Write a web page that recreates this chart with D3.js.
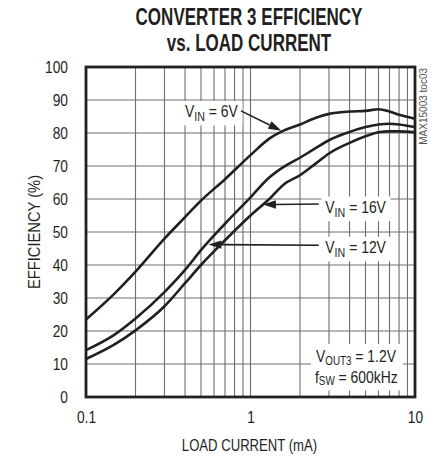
<!DOCTYPE html>
<html>
<head>
<meta charset="utf-8">
<script src="https://cdn.jsdelivr.net/npm/d3@7"></script>
<style>
  body { margin: 0; background: #fff; }
  text { font-family: "Liberation Sans Narrow", "Arial Narrow", "Liberation Sans", sans-serif; fill: #231f20; }
</style>
</head>
<body>
<div id="chart"></div>
<script>
// load current (mA) shared by all three curves
var current = [0.1, 0.15, 0.2, 0.3, 0.4, 0.5, 0.7, 1, 1.3, 1.6, 2, 2.5, 3, 4, 5, 6, 7, 8, 10];
// efficiency (%)
var eff6V  = [23.5, 31.5, 38, 48, 54.5, 59.5, 66, 73.3, 78.3, 80.8, 82.6, 84.6, 85.8, 86.5, 86.7, 87.2, 86.5, 85.5, 84.3];
var eff12V = [14.2, 19, 23.8, 31.8, 38.5, 44.5, 52.5, 60.5, 66.5, 69.8, 72.5, 75.5, 77.8, 80.3, 81.8, 82.6, 82.8, 82.6, 81.8];
var eff16V = [11.5, 16, 20.2, 27.5, 34.5, 40, 47.5, 55, 60, 64.5, 67.2, 70.8, 73.8, 77, 79, 80.2, 80.5, 80.5, 80.2];

var xTicks = [0.1, 1, 10];
var xTickLabels = ["0.1", "1", "10"];
var yTicks = [0, 10, 20, 30, 40, 50, 60, 70, 80, 90, 100];

var margin = {top: 67, right: 20, bottom: 62, left: 86},
    W = 435, H = 459,
    width = W - margin.left - margin.right,
    height = H - margin.top - margin.bottom;
var SX = 0.82; // horizontal squeeze, stands in for a condensed face

var svg = d3.select("#chart").append("svg")
    .attr("width", W)
    .attr("height", H);

var g = svg.append("g")
    .attr("transform", "translate(" + margin.left + "," + margin.top + ")");

var x = d3.scaleLog().domain([0.1, 10]).range([0, width]);
var y = d3.scaleLinear().domain([0, 100]).range([height, 0]);

// text placed in a squeezed group
function ntext(parent, px, py, anchor, size, sx) {
  return parent.append("g")
      .attr("transform", "translate(" + px + "," + py + ") scale(" + (sx || SX) + ",1)")
    .append("text")
      .attr("text-anchor", anchor || "start")
      .style("font-size", size + "px");
}

// title
ntext(svg, 249, 25, "middle", 23, 0.74).style("font-weight", "bold").text("CONVERTER 3 EFFICIENCY");
ntext(svg, 249, 51, "middle", 23, 0.74).style("font-weight", "bold").text("vs. LOAD CURRENT");

// grid
var minor = [];
[0.1, 1].forEach(function(dec) {
  for (var k = 2; k <= 9; k++) minor.push(dec * k);
});
var grid = g.append("g");
grid.selectAll("line.vg")
  .data(minor.concat([1]))
  .enter().append("line")
    .attr("x1", d => x(d)).attr("x2", d => x(d))
    .attr("y1", 0).attr("y2", height)
    .attr("stroke", "#6d6e70").attr("stroke-width", 1.1);
grid.selectAll("line.hg")
  .data(yTicks.slice(1, -1))
  .enter().append("line")
    .attr("x1", 0).attr("x2", width)
    .attr("y1", d => y(d)).attr("y2", d => y(d))
    .attr("stroke", "#6d6e70").attr("stroke-width", 1.1);

var boxLayer = g.append("g");

// axes labels (via d3 axes, domain hidden)
var yAxis = g.append("g")
  .call(d3.axisLeft(y).tickValues(yTicks).tickSize(0).tickPadding(18));
var xAxis = g.append("g")
  .attr("transform", "translate(0," + height + ")")
  .call(d3.axisBottom(x).tickValues(xTicks).tickSize(0).tickPadding(15)
        .tickFormat((d, i) => xTickLabels[i]));
[yAxis, xAxis].forEach(function(a) {
  a.select(".domain").remove();
  a.selectAll("text").style("font-size", "16px").attr("fill", "#231f20")
    .style("font-family", "'Liberation Sans Narrow', 'Arial Narrow', 'Liberation Sans', sans-serif");
});
yAxis.selectAll("text").attr("x", -18 / 0.86).attr("transform", "scale(0.86,1)");
xAxis.selectAll("text").attr("transform", "scale(0.86,1)");

ntext(svg, margin.left + width / 2 - 1, 451, "middle", 16).text("LOAD CURRENT (mA)");

svg.append("g")
  .attr("transform", "translate(40," + (margin.top + height / 2) + ") rotate(-90) scale(0.92,1)")
  .append("text")
  .attr("text-anchor", "middle")
  .style("font-size", "16px")
  .text("EFFICIENCY (%)");

// watermark
svg.append("text")
  .attr("transform", "translate(427,68) rotate(-90)")
  .attr("text-anchor", "end")
  .style("font-size", "10px")
  .style("fill", "#555")
  .text("MAX15003 toc03");

// white box behind a squeezed label
function box(t, px, py, tx, ty) {
  var b = t.node().getBBox();
  boxLayer.append("rect")
    .attr("x", tx + SX * b.x - px).attr("y", ty + b.y - py)
    .attr("width", SX * b.width + 2 * px).attr("height", b.height + 2 * py)
    .attr("fill", "#fff");
}
function vLabel(I, E, sub, rest) {
  var tx = x(I), ty = y(E);
  var t = ntext(g, tx, ty, "start", 17);
  t.append("tspan").text("V");
  t.append("tspan").attr("dy", 4).style("font-size", "13px").text(sub);
  t.append("tspan").attr("dy", -4).text(rest);
  box(t, 4, 1, tx, ty);
  return t;
}

vLabel(0.4, 84.8, "IN", " = 6V");
vLabel(2.85, 55.8, "IN", " = 16V");
vLabel(2.85, 43.6, "IN", " = 12V");

// operating conditions note, two lines
var nx = x(2.5), ny = y(10.5);
var n1 = ntext(g, nx, ny, "start", 17);
n1.append("tspan").text("V");
n1.append("tspan").attr("dy", 2.5).style("font-size", "12px").text("OUT3");
n1.append("tspan").attr("dy", -2.5).text(" = 1.2V");
var ny2 = y(4.3);
var n2 = ntext(g, nx - 1, ny2, "start", 17);
n2.append("tspan").text("f");
n2.append("tspan").attr("dy", 2.5).style("font-size", "12px").text("SW");
n2.append("tspan").attr("dy", -2.5).text(" = 600kHz");
var b1 = n1.node().getBBox(), b2 = n2.node().getBBox();
boxLayer.append("rect")
  .attr("x", nx - 5).attr("y", ny + b1.y - 3)
  .attr("width", SX * Math.max(b1.width, b2.width) + 9)
  .attr("height", (ny2 + b2.y + b2.height) - (ny + b1.y) + 6)
  .attr("fill", "#fff");

// curves
var line = d3.line()
  .x(d => x(d[0]))
  .y(d => y(d[1]))
  .curve(d3.curveMonotoneX);
[eff6V, eff12V, eff16V].forEach(function(s) {
  g.append("path")
    .datum(current.map((c, i) => [c, s[i]]))
    .attr("d", line)
    .attr("fill", "none")
    .attr("stroke", "#231f20")
    .attr("stroke-width", 2.6)
    .attr("stroke-linejoin", "round");
});

// arrows
function arrow(x0, y0, x1, y1) {
  var ang = Math.atan2(y1 - y0, x1 - x0), L = 13, w = 4.2;
  var bx = x1 - L * Math.cos(ang), by = y1 - L * Math.sin(ang);
  g.append("line")
    .attr("x1", x0).attr("y1", y0).attr("x2", bx).attr("y2", by)
    .attr("stroke", "#231f20").attr("stroke-width", 1.6);
  g.append("path")
    .attr("d", "M" + x1 + "," + y1 +
               "L" + (bx + w * Math.sin(ang)) + "," + (by - w * Math.cos(ang)) +
               "L" + (bx - w * Math.sin(ang)) + "," + (by + w * Math.cos(ang)) + "Z")
    .attr("fill", "#231f20");
}
arrow(x(0.875), y(86.7), x(1.54), y(80.7));
arrow(x(2.6), y(58.5), x(1.19), y(58.3));
arrow(x(2.6), y(46), x(0.555), y(46.2));

// frame
g.append("rect")
  .attr("x", 0).attr("y", 0)
  .attr("width", width).attr("height", height)
  .attr("fill", "none")
  .attr("stroke", "#231f20")
  .attr("stroke-width", 2.8);
</script>
</body>
</html>
